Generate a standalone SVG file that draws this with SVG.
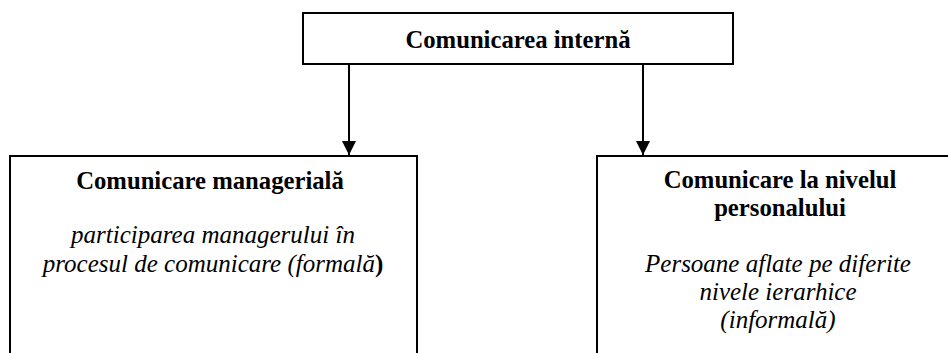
<svg xmlns="http://www.w3.org/2000/svg" width="948" height="353" viewBox="0 0 948 353">
<defs>
<style>
.box{fill:#fff;stroke:#000;stroke-width:2}
.t{font-family:'Liberation Serif','Times New Roman',serif;font-size:24.7px;font-weight:bold;text-anchor:middle;fill:#000}
.i{font-family:'Liberation Serif','Times New Roman',serif;font-size:25px;font-style:italic;text-anchor:middle;fill:#000}
.c{stroke:#000;stroke-width:2;fill:none}
</style>
<marker id="ah" viewBox="0 0 14 14" markerWidth="14" markerHeight="14" refX="14" refY="7" orient="auto" markerUnits="userSpaceOnUse">
<path d="M0,0 L14,7 L0,14 Z" fill="#000"/>
</marker>
</defs>
<rect width="948" height="353" fill="#fff"/>
<g id="connectors">
<line class="c" x1="349" y1="64" x2="349" y2="155" marker-end="url(#ah)"/>
<line class="c" x1="643" y1="64" x2="643" y2="155" marker-end="url(#ah)"/>
</g>
<g id="root">
<rect class="box" x="303" y="13" width="430" height="51"/>
<text class="t" x="518" y="48">Comunicarea internă</text>
</g>
<g id="managerial">
<rect class="box" x="10" y="156" width="407" height="210"/>
<text class="t" x="210" y="189">Comunicare managerială</text>
<text class="i" x="213" y="243">participarea managerului în</text>
<text class="i" x="213" y="272">procesul de comunicare (formală<tspan font-style="normal" font-weight="bold">)</tspan></text>
</g>
<g id="personal">
<rect class="box" x="597" y="156" width="366" height="210"/>
<text class="t" x="780" y="188">Comunicare la nivelul</text>
<text class="t" x="780" y="216">personalului</text>
<text class="i" x="778" y="272">Persoane aflate pe diferite</text>
<text class="i" x="778" y="300">nivele ierarhice</text>
<text class="i" x="778" y="328">(informală)</text>
</g>
</svg>
